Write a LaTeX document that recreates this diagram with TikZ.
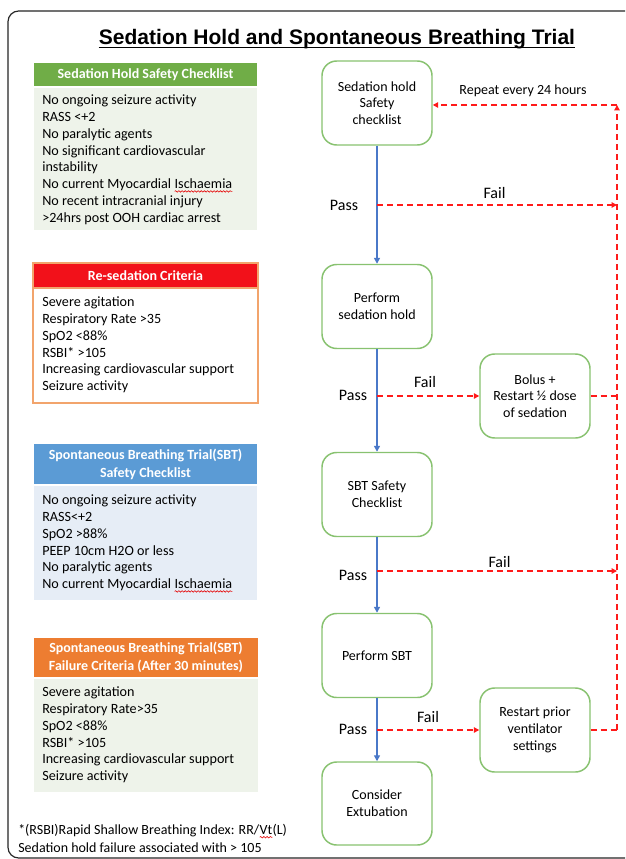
\documentclass[tikz,border=0pt]{standalone}
\usepackage{fontspec}
\setmainfont{Carlito}
\newfontfamily\titlefont{Liberation Sans}
\usetikzlibrary{arrows.meta,decorations.pathmorphing}
\newcommand\redwave[2]{\tikz[baseline=(#1.base)]{\node[inner sep=0pt,outer sep=0pt] (#1) {#2}; \draw[red!90!black, line width=0.45pt, decorate, decoration={snake,amplitude=0.55pt,segment length=2.4pt}] ([yshift=-2pt]#1.base west) -- ([yshift=-2pt]#1.base east);}}
\definecolor{hgreen}{HTML}{70AD47}
\definecolor{bgreen}{HTML}{EEF3EA}
\definecolor{hred}{HTML}{F2111A}
\definecolor{borange}{HTML}{F2A46C}
\definecolor{hblue}{HTML}{5B9BD5}
\definecolor{bblue}{HTML}{E6EDF6}
\definecolor{horange}{HTML}{ED7D31}
\definecolor{ngreen}{HTML}{88C270}
\definecolor{lblue}{HTML}{4A78C8}
\definecolor{dred}{HTML}{FF1A1A}
\begin{document}
\begin{tikzpicture}[x=0.75pt,y=-0.75pt,
  hdr/.style={text=white, font=\bfseries\fontsize{10.5}{13.5}\selectfont, align=center, inner sep=0pt},
  bodytxt/.style={anchor=north west, inner sep=0pt, align=left, font=\fontsize{10.6}{12.6}\selectfont},
  flowbox/.style={draw=ngreen, line width=1.1pt, rounded corners=11pt, minimum width=82.5pt, minimum height=63pt, align=center, fill=white, inner sep=2pt, font=\fontsize{10.5}{12.6}\selectfont},
  lbl/.style={anchor=base, inner sep=0pt, font=\fontsize{12}{14}\selectfont},
  passline/.style={draw=lblue, line width=1pt, -{Triangle[length=4.5pt,width=4.5pt]}},
  fail/.style={draw=dred, line width=0.9pt, dash pattern=on 4.5pt off 3pt},
  failarrow/.style={fail, -{Triangle[length=4pt,width=4pt]}}
]
\useasboundingbox (0,0) rectangle (625,859);
\clip (0,0) rectangle (625,859);
\fill[white] (0,0) rectangle (625,859);
% frame
\draw[black!85, line width=0.9pt, rounded corners=8pt] (8,11) rectangle (660,858);
% title
\node[anchor=base, inner sep=0pt, font=\titlefont\bfseries\fontsize{15.75}{18}\selectfont] (title) at (337,44.6) {Sedation Hold and Spontaneous Breathing Trial};
\draw[line width=1.2pt] ([yshift=-2.3pt]title.base west) -- ([yshift=-2.3pt]title.base east);

% box 1
\fill[bgreen] (34,88) rectangle (257,230);
\node[hdr, fill=hgreen, minimum width=167.25pt, minimum height=17.25pt] (h1) at (145.5,74.5) {Sedation Hold Safety Checklist};
\node[bodytxt] (t1) at (42,92.7) {\strut No ongoing seizure activity\\RASS <+2\\No paralytic agents\\No significant cardiovascular\\instability\\No current Myocardial \redwave{wa}{Ischaemia}\\No recent intracranial injury\\>24hrs post OOH cardiac arrest};

% box 2
\draw[borange, line width=0.9pt, fill=white] (33,263) rectangle (258,403);
\node[hdr, fill=hred, draw=borange, line width=0.9pt, minimum width=168.75pt, minimum height=18.75pt] (h2) at (145.5,275.5) {Re-sedation Criteria};
\node[bodytxt] (t2) at (42,294.7) {\strut Severe agitation\\Respiratory Rate >35\\SpO2 <88\%\\RSBI* >105\\Increasing cardiovascular support\\Seizure activity};

% box 3
\fill[bblue] (34,486) rectangle (257,600);
\node[hdr, fill=hblue, minimum width=167.25pt, minimum height=30pt] (h3) at (145.5,464) {Spontaneous Breathing Trial(SBT)\\Safety Checklist};
\node[bodytxt] (t3) at (42,492.7) {\strut No ongoing seizure activity\\RASS<+2\\SpO2 >88\%\\PEEP 10cm H2O or less\\No paralytic agents\\No current Myocardial \redwave{wb}{Ischaemia}};

% box 4
\fill[bgreen] (34,679) rectangle (258,792);
\node[hdr, fill=horange, minimum width=168pt, minimum height=29.25pt] (h4) at (146,657.5) {Spontaneous Breathing Trial(SBT)\\Failure Criteria (After 30 minutes)};
\node[bodytxt] (t4) at (42,684.7) {\strut Severe agitation\\Respiratory Rate>35\\SpO2 <88\%\\RSBI* >105\\Increasing cardiovascular support\\Seizure activity};

% footer
\node[anchor=north west, inner sep=0pt, align=left, font=\fontsize{10.5}{13.5}\selectfont] (foot) at (18,821.7) {\strut*(RSBI)Rapid Shallow Breathing Index: RR/\redwave{wc}{Vt}(L)\\Sedation hold failure associated with > 105};

% flow nodes
\node[flowbox] (n1) at (377,103) {Sedation hold\\Safety\\checklist};
\node[flowbox] (n2) at (377,306.5) {Perform\\sedation hold};
\node[flowbox] (n3) at (377,494.5) {SBT Safety\\Checklist};
\node[flowbox] (n4) at (377,655.5) {Perform SBT};
\node[flowbox, minimum height=62.25pt] (n5) at (377,803.5) {Consider\\Extubation};
\node[flowbox] (bolus) at (535,396) {Bolus +\\Restart ½ dose\\of sedation};
\node[flowbox] (restart) at (535,730) {Restart prior\\ventilator\\settings};

\coordinate (p1) at (377,205);
\coordinate (p2) at (377,396);
\coordinate (p3) at (377,571);
\coordinate (p4) at (377,730);
\coordinate (r1) at (617,205);
\coordinate (r2) at (617,396);
\coordinate (r3) at (617,571);
\coordinate (r4) at (617,730);
\coordinate (rt) at (617,105);

\draw[passline] (n1.south) -- (n2.north);
\draw[passline] (n2.south) -- (n3.north);
\draw[passline] (n3.south) -- (n4.north);
\draw[passline] (n4.south) -- (n5.north);

\draw[failarrow] (p1) -- (r1);
\draw[failarrow] (p2) -- (bolus.west);
\draw[fail] (bolus.east) -- (r2);
\draw[failarrow] (p3) -- (r3);
\draw[failarrow] (p4) -- (restart.west);
\draw[fail] (restart.east) -- (r4);
\draw[failarrow] (r4) -- (rt);
\draw[failarrow] (rt) -- (n1.east |- rt);

\node[lbl] (pass1) at (344,210) {Pass};
\node[lbl] (pass2) at (353,400) {Pass};
\node[lbl] (pass3) at (353,580) {Pass};
\node[lbl] (pass4) at (353,734) {Pass};
\node[lbl] (fail1) at (494.5,198.5) {Fail};
\node[lbl] (fail2) at (425,387) {Fail};
\node[lbl] (fail3) at (499.5,567) {Fail};
\node[lbl] (fail4) at (428,722) {Fail};
\node[anchor=base, inner sep=0pt, font=\fontsize{10.5}{12.6}\selectfont] (repeat) at (523,94.5) {Repeat every 24 hours};
\end{tikzpicture}
\end{document}
